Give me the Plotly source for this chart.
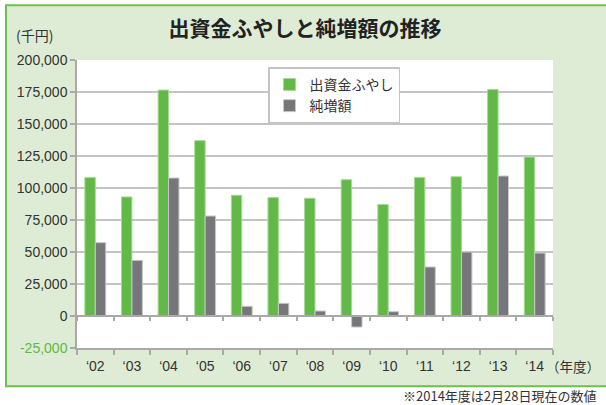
import plotly.graph_objects as go

years = ["‘02", "‘03", "‘04", "‘05", "‘06", "‘07", "‘08", "‘09", "‘10", "‘11", "‘12", "‘13", "‘14"]
fuyashi = [108300, 93000, 176500, 137000, 94300, 92500, 92000, 106500, 87200, 108300, 108800, 177000, 124200]
junzou = [57300, 43500, 107800, 78100, 7600, 9900, 3900, -8600, 3400, 38300, 50000, 109400, 49200]
ytick_vals = [-25000, 0, 25000, 50000, 75000, 100000, 125000, 150000, 175000, 200000]
ytick_text = ['<span style="color:#5cb946">-25,000</span>', "0", "25,000", "50,000", "75,000",
              "100,000", "125,000", "150,000", "175,000", "200,000"]

GREEN = "#62b947"
GRAY = "#77777b"
BG = "#deecd5"
BORDER = "#6cc04c"
GRID = "#c4c4c4"
AXIS = "#a9a9a9"
TXT = "#333333"

fig = go.Figure()
fig.add_trace(go.Bar(x=years, y=fuyashi, name="出資金ふやし",
                     marker=dict(color=GREEN, line=dict(color="#a6d996", width=1))))
fig.add_trace(go.Bar(x=years, y=junzou, name="純増額",
                     marker=dict(color=GRAY, line=dict(color="#c8c8c8", width=1))))
# invisible helper trace so the zero-line category axis draws its ticks
fig.add_trace(go.Scatter(x=years, y=[0] * len(years), xaxis="x2", mode="markers",
                         marker=dict(opacity=0), showlegend=False, hoverinfo="skip"))

fig.update_layout(
    width=606, height=405,
    margin=dict(l=77, r=53, t=60, b=57.33),
    paper_bgcolor="white", plot_bgcolor="white",
    font=dict(family="Liberation Sans, Noto Sans CJK JP", size=14, color=TXT),
    barmode="group", bargap=0.43, bargroupgap=0,
    title=dict(text="出資金ふやしと純増額の推移", x=305 / 606, y=1 - 29 / 405,
               xanchor="center", yanchor="middle", xref="container", yref="container",
               font=dict(family="Noto Sans CJK JP", size=21, color="#222222", weight="bold")),
    xaxis=dict(type="category", showgrid=False, showline=True, linecolor=AXIS, linewidth=1.5,
               ticks="outside", tickson="boundaries", ticklen=5, tickcolor=AXIS, tickwidth=1.5,
               tickfont=dict(size=14, color=TXT), ticklabelstandoff=4, range=[-0.5, 12.5]),
    xaxis2=dict(type="category", overlaying="x", anchor="free", position=25000 / 225000,
                matches="x", showgrid=False, showline=True, linecolor=AXIS, linewidth=1.5,
                ticks="outside", tickson="boundaries", ticklen=4, tickcolor=AXIS, tickwidth=1.5,
                showticklabels=False),
    yaxis=dict(range=[-25000, 200000], tickvals=ytick_vals, ticktext=ytick_text,
               showgrid=True, gridcolor=GRID, gridwidth=1.5, zeroline=False,
               showline=True, linecolor=AXIS, linewidth=1.5,
               ticks="outside", ticklen=5, tickcolor=AXIS, tickwidth=1.5,
               tickfont=dict(size=14, color=TXT)),
    legend=dict(x=(268 - 77) / 476, y=(347.67 - 67) / 288, xanchor="left", yanchor="top",
                bgcolor="white", bordercolor="#c4c4c4", borderwidth=1.5,
                font=dict(family="Noto Sans CJK JP", size=14, color=TXT),
                tracegroupgap=0, itemwidth=30),
    shapes=[
        dict(type="rect", xref="paper", yref="paper", layer="below",
             x0=(6 - 77) / 476, x1=(640 - 77) / 476,
             y0=(347.67 - 386) / 288, y1=(347.67 - 5) / 288,
             fillcolor=BG, line=dict(color=BORDER, width=2)),
        dict(type="rect", xref="paper", yref="paper", layer="below",
             x0=0, x1=1, y0=0, y1=1, fillcolor="white", line=dict(width=0)),
    ],
    annotations=[
        dict(text="(千円)", xref="paper", yref="paper", x=(34 - 77) / 476, y=(347.67 - 35) / 288,
             xanchor="center", yanchor="middle", showarrow=False,
             font=dict(family="Noto Sans CJK JP", size=14, color=TXT)),
        dict(text="（年度）", xref="paper", yref="paper", x=(602 - 77) / 476, y=(347.67 - 366) / 288,
             xanchor="right", yanchor="middle", showarrow=False,
             font=dict(family="Noto Sans CJK JP", size=13.5, color=TXT)),
        dict(text="※2014年度は2月28日現在の数値", xref="paper", yref="paper",
             x=(599 - 77) / 476, y=(347.67 - 395) / 288,
             xanchor="right", yanchor="middle", showarrow=False,
             font=dict(family="Noto Sans CJK JP", size=13, color=TXT)),
    ],
)

fig.write_html("out.html", config={"displayModeBar": False},
               post_script="document.body.style.margin='0';document.body.style.overflow='hidden';")
